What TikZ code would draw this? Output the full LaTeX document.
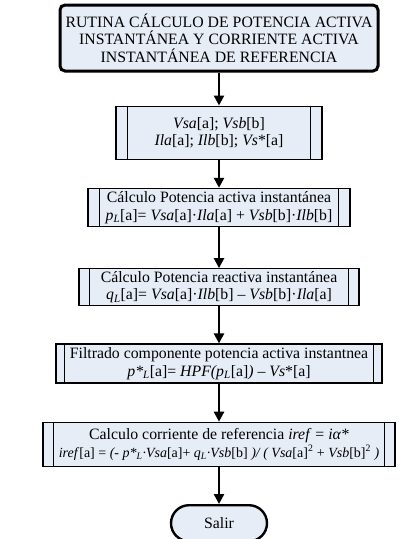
\documentclass[tikz,border=0pt]{standalone}
\usepackage{fontspec}
\setmainfont{Liberation Serif}
\usetikzlibrary{positioning, arrows.meta}
\definecolor{boxfill}{RGB}{231,237,247}

\begin{document}
\begin{tikzpicture}[x=1pt, y=1pt,
  block/.style={draw, fill=boxfill, line width=1.3pt, align=center, inner sep=1pt,
    font=\fontsize{15.8}{17.5}\selectfont},
  flow/.style={line width=2.4pt, -{Triangle[length=10pt, width=10pt]}}]
\useasboundingbox (0,0) rectangle (417,-539);
\node[block, line width=3pt, rounded corners=5pt, minimum width=318, minimum height=66] (title) at (219,-38)
  {RUTINA CÁLCULO DE POTENCIA ACTIVA\\ INSTANTÁNEA Y  CORRIENTE ACTIVA\\ INSTANTÁNEA DE REFERENCIA};
\node[block, minimum width=206, minimum height=53, below=33pt of title] (vin)
  {\textit{Vsa}[a]; \textit{Vsb}[b]\\ \textit{Ila}[a]; \textit{Ilb}[b]; \textit{Vs}*[a]};
\node[block, minimum width=262, minimum height=38, below=28pt of vin] (pl)
  {Cálculo Potencia activa instantánea\\
   \textit{p\textsubscript{L}}[a]= \textit{Vsa}[a]·\textit{Ila}[a] + \textit{Vsb}[b]·\textit{Ilb}[b]};
\node[block, minimum width=280, minimum height=37, below=41pt of pl] (ql)
  {Cálculo Potencia reactiva instantánea\\
   \textit{q\textsubscript{L}}[a]= \textit{Vsa}[a]·\textit{Ilb}[b] – \textit{Vsb}[b]·\textit{Ila}[a]};
\node[block, minimum width=326, minimum height=39, below=37pt of ql] (filt)
  {Filtrado componente potencia activa instantnea\\
   \textit{p*\textsubscript{L}}[a]= \textit{HPF(p\textsubscript{L}}[a]\textit{)} – \textit{Vs}*[a]};
\node[block, minimum width=352, minimum height=44, below=38pt of filt] (iref)
  {Calculo corriente de referencia \textit{iref} = \textit{iα*}\\
   {\fontsize{14}{17}\selectfont\textit{iref}[a] = \textit{(- p*\textsubscript{L}·Vsa}[a]+ \textit{q\textsubscript{L}·Vsb}[b] \textit{)/ ( Vsa}[a]\textsuperscript{2} + \textit{Vsb}[b]\textsuperscript{2} \textit{)}}};
\node[block, line width=2.4pt, rounded corners=18pt, minimum width=96, minimum height=36, below=37pt of iref] (exit) {Salir};
% double side lines of the subroutine boxes
\foreach \n/\d in {vin/12, pl/12, ql/11, filt/9, iref/11}
  \draw[line width=1.3pt] ([xshift=\d]\n.north west) -- ([xshift=\d]\n.south west)
    ([xshift=-\d]\n.north east) -- ([xshift=-\d]\n.south east);
\draw[flow] (title) -- (vin);
\draw[flow] (vin) -- (pl);
\draw[flow] (pl) -- (ql);
\draw[flow] (ql) -- (filt);
\draw[flow] (filt) -- (iref);
\draw[flow] (iref) -- (exit);
\end{tikzpicture}
\end{document}
